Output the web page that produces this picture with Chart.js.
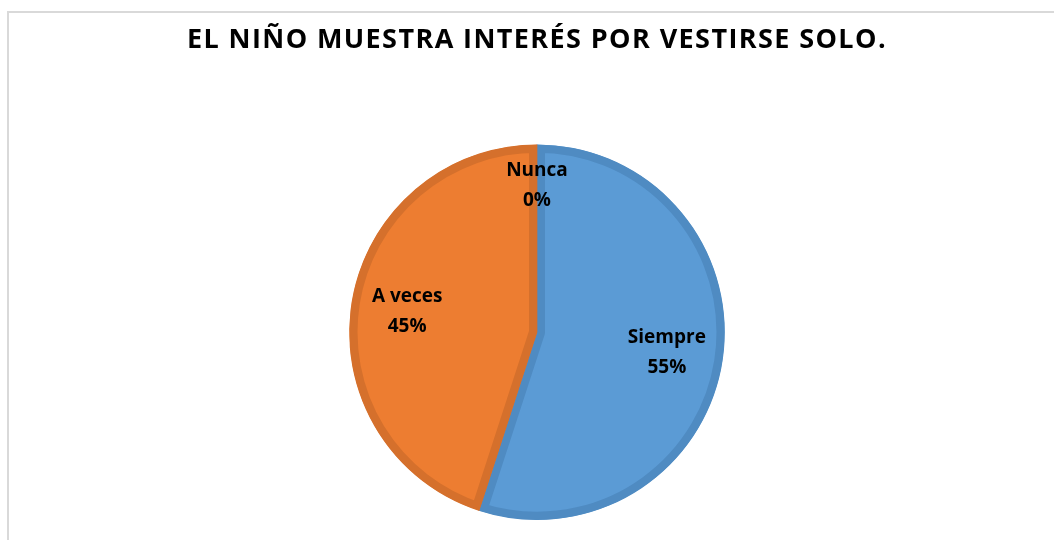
<!DOCTYPE html>
<html>
<head>
<meta charset="utf-8">
<script src="https://cdn.jsdelivr.net/npm/chart.js@4.4.0/dist/chart.umd.min.js"></script>
<style>
  html, body { margin: 0; padding: 0; background: #fff; }
  #wrap { position: relative; width: 1054px; height: 540px; overflow: hidden; }
  #frame {
    position: absolute; left: 7px; top: 11px; width: 1100px; height: 600px;
    border-left: 2px solid #d9d9d9; border-top: 2px solid #d9d9d9;
  }
  canvas { position: absolute; left: 0; top: 0; }
</style>
</head>
<body>
<div id="wrap">
  <div id="frame"></div>
  <canvas id="pieChart" width="1054" height="540"></canvas>
</div>
<script>
const titleText = "EL NIÑO MUESTRA INTERÉS POR VESTIRSE SOLO.";
const categories = ["Siempre", "A veces", "Nunca"];
const percentages = [55, 45, 0];
const sliceColors = ["#5b9bd5", "#ed7d31", "#a5a5a5"];
const borderColors = ["#4f8bc2", "#d5702c", "#949494"];

/* wider letters for the title only */
const titleSpacing = {
  id: "titleSpacing",
  beforeDraw(chart) { chart.ctx.letterSpacing = "1.4px"; },
  beforeDatasetsDraw(chart) { chart.ctx.letterSpacing = "0px"; }
};

/* draws "name" + "xx%" inside each slice */
const sliceLabels = {
  id: "sliceLabels",
  afterDatasetsDraw(chart) {
    const ctx = chart.ctx;
    const meta = chart.getDatasetMeta(0);
    ctx.save();
    ctx.letterSpacing = "0px";
    ctx.font = "bold 19px 'Open Sans'";
    ctx.fillStyle = "#000";
    ctx.textAlign = "center";
    ctx.textBaseline = "middle";
    meta.data.forEach((arc, i) => {
      const mid = (arc.startAngle + arc.endAngle) / 2;
      const frac = percentages[i] === 0 ? 0.78 : 0.7;
      const x = arc.x + Math.cos(mid) * arc.outerRadius * frac;
      const y = arc.y + Math.sin(mid) * arc.outerRadius * frac;
      ctx.fillText(categories[i], x, y - 15);
      ctx.fillText(percentages[i] + "%", x, y + 15);
    });
    ctx.restore();
  }
};

new Chart(document.getElementById("pieChart"), {
  type: "pie",
  data: {
    labels: categories,
    datasets: [{
      data: percentages,
      backgroundColor: sliceColors,
      borderColor: borderColors,
      borderWidth: 8,
      borderAlign: "inner"
    }]
  },
  options: {
    responsive: false,
    animation: false,
    layout: { padding: { left: 20, right: 0, top: 0, bottom: 20 } },
    plugins: {
      legend: { display: false },
      tooltip: { enabled: false },
      title: {
        display: true,
        text: titleText,
        color: "#000",
        font: { family: "'Open Sans'", size: 27, weight: "bold" },
        padding: { top: 24, bottom: 88 }
      }
    }
  },
  plugins: [titleSpacing, sliceLabels]
});
</script>
</body>
</html>
